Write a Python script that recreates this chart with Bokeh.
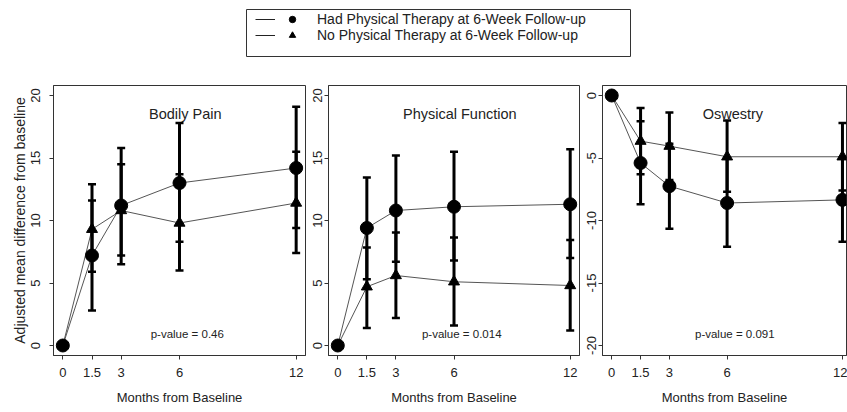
import math
from bokeh.plotting import figure
from bokeh.models import (ColumnDataSource, Whisker, TeeHead, Range1d, FixedTicker,
                          Label, Legend, LegendItem)
from bokeh.layouts import column, row
from bokeh.embed import file_html
from bokeh.resources import INLINE

# ---------------- data ----------------
months = [0, 1.5, 3, 6, 12]
x_ticks = [0, 1.5, 3, 6, 12]
pos_ticks = [0, 5, 10, 15, 20]
neg_ticks = [-20, -15, -10, -5, 0]
neg_tick_labels = ["-20", "-15", "-10", "-5", "0"]

series_labels = ["Had Physical Therapy at 6-Week Follow-up",
                 "No Physical Therapy at 6-Week Follow-up"]

# Bodily Pain
bp_pt = [0, 7.2, 11.2, 13.0, 14.2]
bp_pt_lo = [2.8, 6.5, 8.3, 9.4]
bp_pt_hi = [11.6, 15.8, 17.8, 19.1]
bp_no = [0, 9.3, 10.8, 9.8, 11.4]
bp_no_lo = [5.9, 7.2, 6.0, 7.4]
bp_no_hi = [12.9, 14.5, 13.7, 15.5]

# Physical Function
pf_pt = [0, 9.4, 10.8, 11.1, 11.3]
pf_pt_lo = [5.3, 6.7, 6.8, 7.0]
pf_pt_hi = [13.45, 15.2, 15.5, 15.7]
pf_no = [0, 4.7, 5.6, 5.1, 4.8]
pf_no_lo = [1.4, 2.2, 1.6, 1.2]
pf_no_hi = [7.85, 9.05, 8.65, 8.45]

# Oswestry
os_pt = [0, -5.4, -7.25, -8.6, -8.35]
os_pt_lo = [-8.7, -10.65, -12.1, -11.7]
os_pt_hi = [-2.05, -3.85, -5.05, -4.95]
os_no = [0, -3.65, -4.05, -4.9, -4.9]
os_no_lo = [-6.3, -6.75, -7.7, -7.6]
os_no_hi = [-1.0, -1.35, -2.0, -2.2]

FONT = "Liberation Sans"
NAN = float("nan")


def make_panel(width, border_left, x_end, y_start, y_end, yticks, title, pval,
               title_y, pval_y, pt, pt_lo, pt_hi, no, no_lo, no_hi,
               ylabel=None, tick_overrides=None, ylabel_standoff=3):
    p = figure(width=width, height=349, x_range=Range1d(-0.48, x_end),
               y_range=Range1d(y_start, y_end), output_backend="svg",
               toolbar_location=None, min_border_left=border_left,
               min_border_right=1, min_border_top=23, min_border_bottom=56)
    p.xgrid.visible = False
    p.ygrid.visible = False
    p.outline_line_color = "#333333"
    p.outline_line_width = 1
    p.background_fill_color = "white"
    p.border_fill_color = "white"

    p.xaxis.ticker = FixedTicker(ticks=x_ticks)
    p.yaxis.ticker = FixedTicker(ticks=yticks)
    if tick_overrides:
        p.yaxis.major_label_overrides = tick_overrides
    p.axis.minor_tick_line_color = None
    p.axis.major_tick_out = 4
    p.axis.major_tick_in = 0
    p.axis.axis_line_color = "#333333"
    p.axis.major_tick_line_color = "#333333"
    p.axis.major_label_text_font = FONT
    p.axis.major_label_text_font_size = "13px"
    p.axis.major_label_text_color = "#222222"
    p.xaxis.major_label_standoff = 8
    p.yaxis.major_label_standoff = ylabel_standoff
    p.yaxis.major_label_orientation = "parallel"

    p.xaxis.axis_label = "Months from Baseline"
    p.xaxis.axis_label_text_font = FONT
    p.xaxis.axis_label_text_font_size = "13px"
    p.xaxis.axis_label_text_font_style = "normal"
    p.xaxis.axis_label_text_color = "#222222"
    p.xaxis.axis_label_standoff = 10
    if ylabel:
        p.yaxis.axis_label = ylabel
        p.yaxis.axis_label_text_font = FONT
        p.yaxis.axis_label_text_font_size = "14px"
        p.yaxis.axis_label_text_font_style = "normal"
        p.yaxis.axis_label_text_color = "#222222"
        p.yaxis.axis_label_standoff = 0

    # connecting lines
    p.line(months, pt, line_color="#555555", line_width=1)
    p.line(months, no, line_color="#555555", line_width=1)

    # error bars
    for lo, hi in ((no_lo, no_hi), (pt_lo, pt_hi)):
        src = ColumnDataSource(dict(x=months[1:], lower=lo, upper=hi))
        w = Whisker(source=src, base="x", lower="lower", upper="upper",
                    dimension="height", line_color="black", line_width=3,
                    upper_head=TeeHead(size=8, line_width=2.5, line_color="black"),
                    lower_head=TeeHead(size=8, line_width=2.5, line_color="black"))
        w.level = "glyph"
        p.add_layout(w)

    # markers
    p.scatter(months, no, marker="triangle", size=11, color="black")
    p.scatter(months, pt, marker="circle", size=13, color="black")

    p.add_layout(Label(x=6.3, y=title_y, text=title, text_align="center",
                       text_baseline="middle", text_font=FONT,
                       text_font_size="14.5px", text_color="#222222"))
    p.add_layout(Label(x=6.4, y=pval_y, text=pval, text_align="center",
                       text_baseline="middle", text_font=FONT,
                       text_font_size="11.5px", text_color="#222222"))
    return p


p1 = make_panel(306, 53, 12.48, -0.8, 20.8, pos_ticks, "Bodily Pain",
                "p-value = 0.46", 18.56, 0.96,
                bp_pt, bp_pt_lo, bp_pt_hi, bp_no, bp_no_lo, bp_no_hi,
                ylabel="Adjusted mean difference from baseline",
                ylabel_standoff=10)
p2 = make_panel(274, 22, 12.48, -0.8, 20.8, pos_ticks, "Physical Function",
                "p-value = 0.014", 18.56, 0.96,
                pf_pt, pf_pt_lo, pf_pt_hi, pf_no, pf_no_lo, pf_no_hi)
p3 = make_panel(267, 22, 12.21, -20.8, 0.8, neg_ticks, "Oswestry",
                "p-value = 0.091", -1.44, -19.04,
                os_pt, os_pt_lo, os_pt_hi, os_no, os_no_lo, os_no_hi,
                tick_overrides=dict(zip(neg_ticks, neg_tick_labels)))

# ---------------- legend ----------------
lp = figure(width=847, height=62, x_axis_type=None, y_axis_type=None,
            x_range=Range1d(0, 1), y_range=Range1d(0, 1),
            output_backend="svg", toolbar_location=None,
            min_border_left=246, min_border_right=217,
            min_border_top=9, min_border_bottom=6)
lp.outline_line_color = "#333333"
lp.outline_line_width = 1
lp.background_fill_color = "white"
lp.border_fill_color = "white"

# legend-only renderers (nothing visible in the plot area)
l1 = lp.line(x=[NAN], y=[NAN], line_color="#222222", line_width=1)
s1 = lp.scatter(x=[NAN], y=[NAN], marker="circle", size=7, color="black")
s2 = lp.scatter(x=[NAN], y=[NAN], marker="triangle", size=7, color="black")

common = dict(margin=0, padding=0, border_line_color=None,
              background_fill_alpha=0, spacing=0,
              label_text_font=FONT, label_text_font_size="14px",
              label_text_color="#222222", label_text_align="left",
              label_height=16, glyph_height=16)

row_y = [29, 13]
for label, marker_r, ly in zip(series_labels, [s1, s2], row_y):
    lp.add_layout(Legend(items=[LegendItem(label=" ", renderers=[l1])],
                         location=(9, ly), glyph_width=20, label_standoff=0,
                         label_width=0, **common))
    lp.add_layout(Legend(items=[LegendItem(label=label, renderers=[marker_r])],
                         location=(38, ly), glyph_width=16, label_standoff=17,
                         **common))

layout = column(lp, row(p1, p2, p3, spacing=0), spacing=0)

open("out.html", "w").write(file_html(layout, INLINE))
